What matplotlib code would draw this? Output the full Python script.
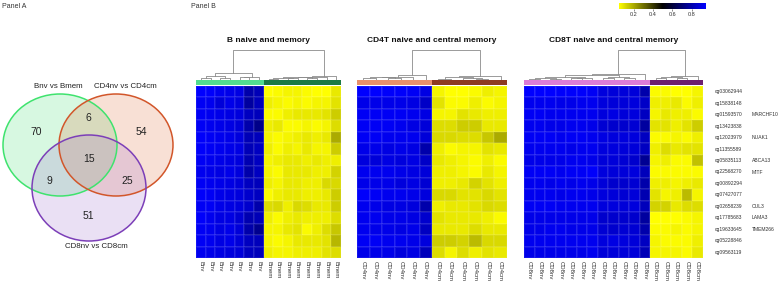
import matplotlib
matplotlib.use("Agg")
import matplotlib.pyplot as plt
import numpy as np
from matplotlib.colors import LinearSegmentedColormap, Normalize
from matplotlib.patches import Ellipse
from matplotlib.cm import ScalarMappable

plt.rcParams["font.family"] = ["Liberation Sans", "DejaVu Sans"]

W, H = 784, 283

# ---------------- Panel A: Venn counts ----------------
venn_sets = ["Bnv vs Bmem", "CD4nv vs CD4cm", "CD8nv vs CD8cm"]
venn_counts = {"100": 70, "110": 6, "010": 54, "111": 15, "101": 9, "011": 25, "001": 51}

# ---------------- Panel B: heatmaps ----------------
cpg_ids = ["cg03062944", "cg15838148", "cg01593570", "cg13423838", "cg12023979",
           "cg11355589", "cg05835113", "cg22568270", "cg00892294", "cg07427077",
           "cg02658239", "cg17785683", "cg19633645", "cg05228846", "cg09563119"]
gene_names = ["", "", "MARCHF10", "", "NUAK1", "", "ABCA13", "MITF", "", "",
              "CUL3", "LAMA3", "TMEM266", "", ""]

b_naive = [
    [.95, .94, .92, .91, .90, .80, .82],
    [.93, .92, .88, .91, .89, .78, .83],
    [.93, .92, .91, .90, .89, .84, .83],
    [.93, .92, .91, .90, .88, .80, .74],
    [.94, .93, .92, .91, .89, .82, .83],
    [.94, .93, .92, .91, .90, .82, .84],
    [.93, .92, .91, .90, .89, .81, .84],
    [.92, .91, .90, .91, .89, .80, .84],
    [.93, .92, .91, .90, .88, .84, .83],
    [.94, .93, .91, .90, .89, .86, .84],
    [.93, .93, .91, .90, .89, .86, .80],
    [.94, .92, .90, .90, .87, .81, .82],
    [.93, .92, .90, .91, .88, .80, .75],
    [.93, .92, .90, .91, .88, .84, .83],
    [.92, .91, .90, .89, .88, .84, .83],
]
b_memory = [
    [.05, .06, .07, .07, .06, .05, .05, .09],
    [.08, .07, .06, .07, .06, .07, .07, .10],
    [.06, .06, .08, .09, .09, .09, .10, .14],
    [.08, .09, .06, .06, .07, .06, .07, .11],
    [.07, .06, .07, .08, .09, .08, .09, .20],
    [.08, .06, .08, .07, .09, .07, .07, .14],
    [.07, .08, .09, .09, .08, .09, .08, .08],
    [.07, .06, .09, .09, .09, .08, .08, .13],
    [.08, .07, .09, .09, .08, .08, .12, .12],
    [.06, .08, .09, .09, .08, .08, .09, .14],
    [.11, .12, .08, .12, .11, .09, .09, .14],
    [.08, .06, .08, .09, .08, .08, .08, .11],
    [.07, .07, .09, .10, .06, .08, .11, .15],
    [.07, .06, .07, .09, .09, .09, .10, .18],
    [.08, .07, .07, .08, .08, .08, .10, .11],
]
cd4_naive = [
    [.95, .95, .94, .94, .93, .90],
    [.91, .91, .91, .91, .90, .85],
    [.93, .93, .93, .93, .92, .90],
    [.93, .93, .93, .92, .90, .88],
    [.93, .93, .92, .92, .92, .88],
    [.91, .91, .90, .91, .90, .80],
    [.89, .88, .90, .89, .90, .85],
    [.92, .92, .92, .91, .90, .88],
    [.91, .91, .91, .89, .90, .87],
    [.94, .93, .92, .92, .91, .89],
    [.92, .91, .90, .90, .89, .80],
    [.92, .92, .91, .91, .90, .86],
    [.92, .91, .91, .90, .91, .84],
    [.93, .93, .92, .92, .91, .89],
    [.91, .91, .91, .89, .90, .83],
]
cd4_cm = [
    [.07, .05, .05, .06, .08, .07],
    [.10, .06, .06, .08, .06, .07],
    [.07, .07, .10, .09, .08, .08],
    [.11, .11, .14, .14, .09, .09],
    [.12, .12, .11, .11, .15, .20],
    [.08, .06, .07, .07, .10, .09],
    [.09, .08, .07, .06, .08, .06],
    [.08, .08, .07, .06, .09, .07],
    [.08, .08, .09, .13, .10, .08],
    [.12, .12, .10, .10, .12, .10],
    [.08, .09, .09, .10, .12, .11],
    [.10, .09, .09, .09, .08, .06],
    [.09, .09, .09, .11, .09, .09],
    [.14, .14, .13, .17, .12, .12],
    [.11, .07, .11, .08, .10, .09],
]
cd8_naive = [
    [.95, .95, .95, .94, .94, .94, .93, .89, .88, .88, .88, .80],
    [.92, .92, .92, .91, .91, .92, .92, .89, .88, .88, .89, .85],
    [.93, .93, .92, .92, .92, .92, .92, .89, .90, .88, .89, .84],
    [.92, .92, .91, .91, .92, .92, .91, .87, .86, .86, .87, .78],
    [.93, .93, .93, .92, .93, .93, .92, .90, .89, .89, .89, .84],
    [.92, .92, .92, .92, .91, .92, .92, .89, .89, .88, .88, .84],
    [.91, .91, .91, .91, .92, .92, .91, .88, .88, .87, .86, .76],
    [.93, .93, .93, .92, .93, .93, .94, .89, .88, .88, .89, .83],
    [.92, .92, .91, .92, .91, .92, .91, .88, .86, .86, .87, .80],
    [.92, .92, .92, .91, .92, .92, .91, .89, .88, .87, .88, .81],
    [.93, .93, .93, .92, .92, .92, .92, .89, .89, .88, .89, .83],
    [.91, .91, .91, .91, .91, .91, .91, .86, .86, .86, .86, .78],
    [.91, .91, .92, .92, .91, .91, .91, .87, .86, .87, .87, .80],
    [.92, .92, .92, .92, .92, .92, .92, .89, .90, .89, .88, .84],
    [.91, .91, .91, .91, .91, .91, .92, .88, .88, .88, .88, .82],
]
cd8_cm = [
    [.06, .06, .05, .05, .07],
    [.08, .08, .09, .06, .08],
    [.07, .09, .08, .08, .06],
    [.10, .10, .08, .10, .14],
    [.06, .06, .07, .06, .08],
    [.08, .11, .09, .10, .10],
    [.07, .08, .06, .06, .16],
    [.06, .06, .06, .06, .06],
    [.08, .08, .07, .08, .09],
    [.10, .07, .08, .17, .07],
    [.13, .13, .09, .11, .11],
    [.05, .05, .05, .06, .07],
    [.06, .06, .07, .06, .07],
    [.07, .06, .06, .06, .08],
    [.07, .07, .07, .06, .09],
]

# dendrogram merges: (child_a, child_b, height); leaves 0..n-1, new nodes n, n+1, ...
b_merges = [(0, 1, .05), (2, 3, .06), (15, 16, .12), (4, 5, .07), (18, 6, .10),
            (17, 19, .22), (7, 8, .03), (9, 10, .04), (21, 22, .05), (11, 12, .04),
            (23, 24, .07), (25, 13, .08), (26, 14, .11), (20, 27, 1.0)]
cd4_merges = [(0, 1, .04), (2, 3, .05), (12, 13, .07), (14, 4, .10), (15, 5, .16),
              (6, 7, .03), (9, 10, .03), (8, 18, .05), (17, 19, .07), (20, 11, .11),
              (16, 21, 1.0)]
cd8_merges = [(0, 1, .03), (2, 3, .03), (17, 18, .05), (4, 5, .04), (20, 6, .06),
              (19, 21, .10), (7, 8, .05), (9, 10, .05), (23, 24, .08), (22, 25, .14),
              (26, 11, .19), (12, 13, .04), (14, 15, .04), (28, 29, .07), (30, 16, .12),
              (27, 31, 1.0)]

panels = [
    ("B naive and memory", b_naive, b_memory, "Bnv", "Bmem", "#52DB90", "#1B7A45", b_merges),
    ("CD4T naive and central memory", cd4_naive, cd4_cm, "CD4nv", "CD4cm", "#E8916C", "#8E3B22", cd4_merges),
    ("CD8T naive and central memory", cd8_naive, cd8_cm, "CD8nv", "CD8cm", "#DC7CD8", "#6E1F6E", cd8_merges),
]
panel_px = [(196, 341), (357, 507), (524, 703)]


def rect(x0, y0, x1, y1):
    return [x0 / W, 1 - y1 / H, (x1 - x0) / W, (y1 - y0) / H]


def draw_dendrogram(ax, n, merges):
    xpos = {i: float(i) for i in range(n)}
    hpos = {i: 0.0 for i in range(n)}
    for k, (a, b, h) in enumerate(merges):
        xa, xb = xpos[a], xpos[b]
        ax.plot([xa, xa, xb, xb], [hpos[a], h, h, hpos[b]], color="#8a8a8a", lw=0.6)
        xpos[n + k] = (xa + xb) / 2
        hpos[n + k] = h
    ax.set_xlim(-0.5, n - 0.5)
    ax.set_ylim(0, 1.02)
    ax.axis("off")


cmap = LinearSegmentedColormap.from_list("ykb", ["#FFFF00", "#000000", "#0000FF"])
norm = Normalize(vmin=0.05, vmax=0.95)

fig = plt.figure(figsize=(W / 100, H / 100), dpi=100)
fig.text(2 / W, 1 - 6 / H, "Panel A", fontsize=5, color="#333333", va="center")
fig.text(191 / W, 1 - 6 / H, "Panel B", fontsize=5, color="#333333", va="center")

# Venn
ax_v = fig.add_axes(rect(0, 0, 180, 283))
ax_v.set_xlim(0, 180)
ax_v.set_ylim(283, 0)
ax_v.axis("off")
circles = [((60, 145), 114, 102, "#3BE06A", "#3FE36E"),
           ((116, 145), 114, 102, "#E0652E", "#D2562A"),
           ((89, 188), 114, 106, "#9A66CC", "#7C3FB8")]
for (c, w, h, fc, ec) in circles:
    ax_v.add_patch(Ellipse(c, w, h, facecolor=fc, edgecolor="none", alpha=0.2))
for (c, w, h, fc, ec) in circles:
    ax_v.add_patch(Ellipse(c, w, h, facecolor="none", edgecolor=ec, lw=1.1))
count_pos = {"100": (36, 132), "110": (88, 118), "010": (141, 132), "111": (89, 159),
             "101": (49, 181), "011": (127, 181), "001": (88, 216)}
for key, val in venn_counts.items():
    ax_v.text(*count_pos[key], str(val), fontsize=7.5, ha="center", va="center", color="#222222")
label_pos = [(58, 86), (125, 87), (96, 246)]
for name, pos in zip(venn_sets, label_pos):
    ax_v.text(*pos, name, fontsize=5.7, ha="center", va="center", color="#222222")

# heatmaps
for (title, naive, mem, lab_n, lab_m, col_n, col_m, merges), (x0, x1) in zip(panels, panel_px):
    data = np.hstack([np.array(naive), np.array(mem)])
    nrow, ncol = data.shape
    nn = len(naive[0])

    ax = fig.add_axes(rect(x0, 86, x1, 258))
    ax.pcolormesh(np.arange(ncol + 1) - 0.5, np.arange(nrow + 1) - 0.5, data, cmap=cmap, norm=norm,
                  edgecolors=(1, 1, 1, 0.08), linewidth=0.3)
    ax.set_xlim(-0.5, ncol - 0.5)
    ax.set_ylim(nrow - 0.5, -0.5)
    ax.set_xticks(np.arange(ncol))
    ax.set_xticklabels([lab_n] * nn + [lab_m] * (ncol - nn), rotation=270, fontsize=4.3, color="#333333")
    ax.tick_params(axis="x", length=0, pad=2)
    ax.set_yticks([])
    for s in ax.spines.values():
        s.set_visible(False)

    ax_s = fig.add_axes(rect(x0, 79.5, x1, 85))
    ax_s.barh(0, nn, left=-0.5, height=1, color=col_n)
    ax_s.barh(0, ncol - nn, left=nn - 0.5, height=1, color=col_m)
    ax_s.set_xlim(-0.5, ncol - 0.5)
    ax_s.set_ylim(-0.5, 0.5)
    ax_s.axis("off")

    ax_d = fig.add_axes(rect(x0, 49, x1, 79.5))
    draw_dendrogram(ax_d, ncol, merges)

    fig.text((x0 + x1) / 2 / W, 1 - 40 / H, title, fontsize=6, fontweight="bold",
             ha="center", va="center", color="#111111")

    if title.startswith("CD8"):
        for i, (cg, gene) in enumerate(zip(cpg_ids, gene_names)):
            ax.text(ncol - 0.5 + 12 / ((x1 - x0) / ncol), i, cg, fontsize=3.6, va="center",
                    ha="left", color="#333333")
            if gene:
                ax.text(ncol - 0.5 + 49 / ((x1 - x0) / ncol), i, gene, fontsize=3.6, va="center",
                        ha="left", color="#333333")

# colour key
cax = fig.add_axes(rect(619, 3, 706, 8.5))
cb = fig.colorbar(ScalarMappable(norm=norm, cmap=cmap), cax=cax, orientation="horizontal",
                  ticks=[0.2, 0.4, 0.6, 0.8])
cb.outline.set_visible(False)
cb.ax.tick_params(labelsize=4, length=1.2, width=0.4, pad=1, colors="#333333")

fig.savefig("out.png", dpi=100)
